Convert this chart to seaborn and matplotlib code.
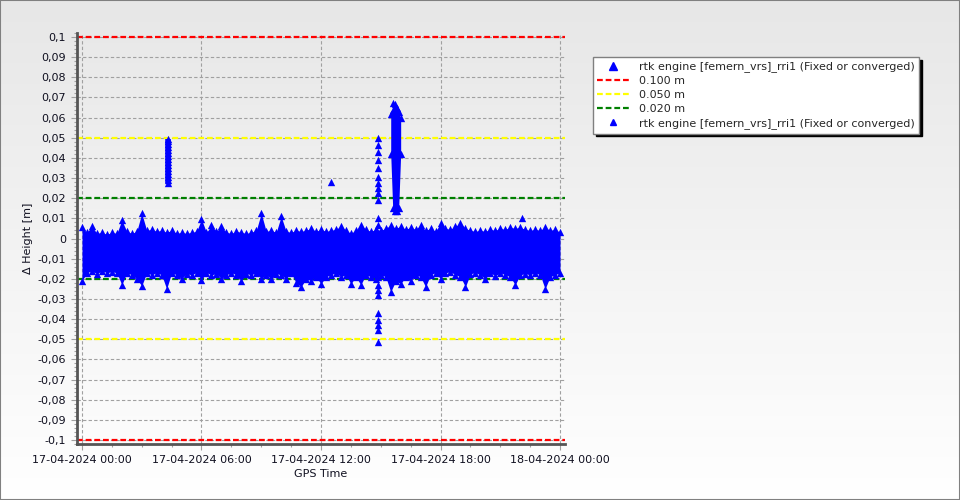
import numpy as np
import pandas as pd
import matplotlib
matplotlib.use('Agg')
import matplotlib.pyplot as plt
from matplotlib.dates import DateFormatter, HourLocator
from matplotlib.ticker import MultipleLocator, AutoMinorLocator, FuncFormatter
from matplotlib.lines import Line2D
from matplotlib.colors import LinearSegmentedColormap
import seaborn as sns

sns.set_style('white')
plt.rcParams['font.family'] = ['DejaVu Sans']

# --- data, heights in mm ---
band_time = pd.date_range('2024-04-17 00:00', '2024-04-18 00:00', freq='15min')

band_top_mm = [
    5.5, 3.0, 6.0, 2.5,
    3.0, 2.0, 3.0, 2.5,
    9.0, 3.5, 2.5, 3.5,
    12.5, 4.0, 4.5, 3.5,
    4.0, 3.0, 4.0, 2.5,
    3.0, 2.5, 3.0, 3.5,
    9.5, 3.0, 6.5, 3.5,
    6.0, 3.0, 2.5, 3.5,
    3.0, 2.5, 3.0, 4.0,
    12.5, 3.5, 4.0, 3.0,
    11.0, 3.5, 3.0, 4.0,
    3.5, 4.0, 5.0, 3.5,
    4.5, 3.5, 4.0, 4.5,
    6.0, 4.0, 2.5, 4.0,
    6.5, 4.5, 3.5, 4.5,
    4.0, 5.0, 6.5, 5.0,
    6.0, 4.5, 5.5, 4.5,
    6.5, 4.0, 5.0, 3.5,
    7.5, 5.0, 4.5, 6.0,
    7.5, 5.0, 4.0, 3.5,
    4.0, 3.5, 4.5, 4.0,
    5.0, 4.5, 5.5, 5.0,
    5.5, 4.5, 4.0, 4.5,
    4.0, 5.5, 4.0, 4.5,
    3.0,
]

band_bottom_mm = [
    -21, -17, -16, -17.5,
    -16, -17, -16.5, -17,
    -23, -17, -18, -20,
    -23.5, -17, -18, -17,
    -18, -25, -17, -18,
    -20, -17.5, -18, -17,
    -20.5, -17, -18, -17.5,
    -20, -18, -17, -18,
    -21, -17.5, -18, -17,
    -20, -18, -20, -17.5,
    -18, -20, -17, -22,
    -24, -20, -21, -19,
    -22.5, -19, -18, -17,
    -19, -18, -22.5, -19,
    -23, -18, -19, -20,
    -18, -19, -26.5, -21,
    -22.5, -19, -21, -18,
    -19, -24, -18, -17,
    -20, -17, -16.5, -18,
    -19, -24, -17.5, -17,
    -18, -20, -17, -18.5,
    -17, -18, -19, -23,
    -18, -17.5, -18, -17,
    -18, -25, -19, -18,
    -17,
]

# jump around 04:19
spike_a_time = '2024-04-17 04:19'
spike_a_mm = [27.5, 29, 30.5, 32, 33.5, 35, 36.5, 38, 39.5, 41, 42.5, 44, 45.5, 47, 48.5, 49.5]

# scattered fixes around 14:52
spike_b_time = '2024-04-17 14:52'
spike_b_mm = [49.7, 46.4, 43.1, 39.0, 34.8, 30.7, 27.4, 24.9, 22.4, 19.1, 10.0, 6.7,
              -18.9, -23.1, -25.6, -28.0, -37.1, -40.4, -43.0, -45.4, -51.2]

# dense block 15:30 - 16:00
block_time = pd.to_datetime(['2024-04-17 15:30', '2024-04-17 15:36', '2024-04-17 15:42',
                             '2024-04-17 15:48', '2024-04-17 15:54', '2024-04-17 16:00'])
block_top_mm = [62, 64, 67, 65, 63, 60]
block_bottom_mm = [42, 15, 13.5, 13.5, 15, 42]

# single points
extra_time = pd.to_datetime(['2024-04-17 12:30', '2024-04-17 15:38', '2024-04-17 22:06'])
extra_mm = [28, 67.4, 10]

ref_levels = [0.100, 0.050, 0.020]
ref_colors = ['#ff0000', '#ffff00', '#008000']
ref_labels = ['0.100 m', '0.050 m', '0.020 m']
series_label = 'rtk engine [femern_vrs]_rri1 (Fixed or converged)'

# --- build point table ---
mm = 0.001
spike_a_t = pd.to_datetime([spike_a_time] * len(spike_a_mm))
pts = pd.concat([
    pd.DataFrame({'time': band_time, 'dh': np.array(band_top_mm) * mm}),
    pd.DataFrame({'time': band_time, 'dh': np.array(band_bottom_mm) * mm}),
    pd.DataFrame({'time': spike_a_t, 'dh': np.array(spike_a_mm) * mm}),
    pd.DataFrame({'time': pd.to_datetime([spike_b_time] * len(spike_b_mm)), 'dh': np.array(spike_b_mm) * mm}),
    pd.DataFrame({'time': block_time, 'dh': np.array(block_top_mm) * mm}),
    pd.DataFrame({'time': block_time, 'dh': np.array(block_bottom_mm) * mm}),
    pd.DataFrame({'time': extra_time, 'dh': np.array(extra_mm) * mm}),
], ignore_index=True)

fig = plt.figure(figsize=(9.6, 5.0), dpi=100)

# background gradient
bg = fig.add_axes([0, 0, 1, 1], zorder=-10)
grad = LinearSegmentedColormap.from_list('bg', ['#e7e7e7', '#ffffff'])
bg.imshow(np.linspace(0, 1, 256).reshape(-1, 1), cmap=grad, aspect='auto', extent=[0, 1, 0, 1])
bg.set_axis_off()
fig.patches.append(plt.Rectangle((0, 0), 1, 1, transform=fig.transFigure, fill=False,
                                 edgecolor='#808080', lw=1.5, zorder=100))

ax = fig.add_axes([77 / 960, 1 - 444 / 500, (565 - 77) / 960, (444 - 33) / 500])
ax.set_facecolor('none')

for lvl, col in zip(ref_levels, ref_colors):
    for s in (1, -1):
        ax.axhline(s * lvl, color=col, ls=(0, (2.6, 1.3)), lw=1.6, zorder=2)

blue = '#0000ff'
ax.fill_between(band_time, np.array(band_bottom_mm) * mm, np.array(band_top_mm) * mm,
                color=blue, lw=0, zorder=3)
ax.fill_between(block_time, np.array(block_bottom_mm) * mm, np.array(block_top_mm) * mm,
                color=blue, lw=0, zorder=3)
# the 04:19 jump is a continuous run of fixes: join them into a solid column
ax.plot(spike_a_t, np.array(spike_a_mm) * mm, color=blue, lw=4, solid_capstyle='butt', zorder=3)
sns.scatterplot(data=pts, x='time', y='dh', marker='^', color=blue, s=28,
                linewidth=0, ax=ax, zorder=4, legend=False)

ax.set_xlim(pd.Timestamp('2024-04-16 23:45'), pd.Timestamp('2024-04-18 00:15'))
ax.set_ylim(-0.102, 0.102)

ax.xaxis.set_major_locator(HourLocator(byhour=[0, 6, 12, 18]))
ax.xaxis.set_major_formatter(DateFormatter('%d-%m-%Y %H:%M'))
ax.xaxis.set_minor_locator(AutoMinorLocator(4))
ax.yaxis.set_major_locator(MultipleLocator(0.01))
ax.yaxis.set_minor_locator(AutoMinorLocator(5))


def comma_fmt(v, pos):
    v = round(v, 3)
    if v == 0:
        return '0'
    return f'{v:g}'.replace('.', ',')


ax.yaxis.set_major_formatter(FuncFormatter(comma_fmt))

ax.grid(True, which='major', color='#a0a0a0', ls=(0, (3, 2)), lw=0.8, zorder=1)
ax.tick_params(axis='both', which='major', direction='out', length=4, width=0.8,
               color='#a0a0a0', labelsize=8, labelcolor='#101020', pad=4)
ax.tick_params(axis='both', which='minor', direction='out', length=2, width=0.8, color='#a0a0a0')
ax.tick_params(axis='x', which='both', bottom=True)
ax.tick_params(axis='y', which='both', left=True)

for side in ('top', 'right'):
    ax.spines[side].set_visible(False)
for side in ('left', 'bottom'):
    ax.spines[side].set_color('#555555')
    ax.spines[side].set_linewidth(2)

ax.set_xlabel('GPS Time', fontsize=8, labelpad=3, color='#101020')
ax.set_ylabel('\u0394 Height [m]', fontsize=8, labelpad=3, color='#101020')

handles = [Line2D([], [], marker='^', ls='none', color=blue, markersize=6)]
for col in ref_colors:
    handles.append(Line2D([], [], color=col, ls=(0, (2.6, 1.3)), lw=1.6))
handles.append(Line2D([], [], marker='^', ls='none', color=blue, markersize=4))
labels = [series_label] + ref_labels + [series_label]

fig.legend(handles, labels, loc='upper left', bbox_to_anchor=(593 / 960, 1 - 57 / 500),
           fontsize=8, frameon=True, fancybox=False, edgecolor='#808080', facecolor='white',
           framealpha=1, shadow={'color': 'black', 'alpha': 1}, handlelength=2.8,
           handletextpad=0.9, labelspacing=0.36, borderpad=0.4, borderaxespad=0)

fig.savefig('out.png', dpi=100)
